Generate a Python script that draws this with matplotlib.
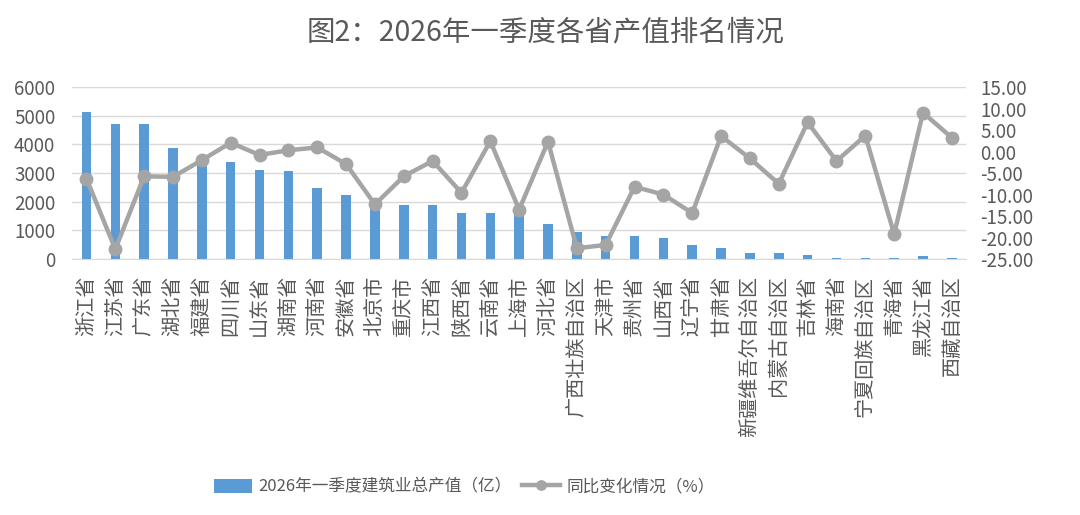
import matplotlib
matplotlib.use("Agg")
import matplotlib.pyplot as plt
import numpy as np

plt.rcParams['font.family'] = ['Noto Sans CJK SC', 'DejaVu Sans']

provinces = ['浙江省', '江苏省', '广东省', '湖北省', '福建省', '四川省', '山东省', '湖南省',
             '河南省', '安徽省', '北京市', '重庆市', '江西省', '陕西省', '云南省', '上海市',
             '河北省', '广西壮族自治区', '天津市', '贵州省', '山西省', '辽宁省', '甘肃省',
             '新疆维吾尔自治区', '内蒙古自治区', '吉林省', '海南省', '宁夏回族自治区',
             '青海省', '黑龙江省', '西藏自治区']
output_value = [5120, 4700, 4700, 3880, 3500, 3380, 3120, 3060, 2490, 2250, 1950, 1870,
                1870, 1610, 1610, 1650, 1230, 950, 820, 820, 740, 500, 370, 200, 200,
                140, 30, 30, 20, 120, 20]
yoy_change = [-6.3, -22.7, -5.75, -5.9, -2.0, 2.05, -0.8, 0.3, 0.95, -2.9, -12.3, -5.75,
              -2.2, -9.6, 2.4, -13.5, 2.3, -22.5, -21.7, -8.2, -10.0, -14.3, 3.6, -1.6,
              -7.5, 6.8, -2.2, 3.7, -19.2, 9.06, 3.2]

bar_color = '#5b9bd5'
line_color = '#a5a5a5'
text_color = '#595959'

fig = plt.figure(figsize=(10.8, 5.15), dpi=100)
ax = fig.add_axes([0.0667, 0.497, 0.828, 0.334])
x = np.arange(len(provinces))

ax.bar(x, output_value, width=0.33, color=bar_color, zorder=2,
       label='2026年一季度建筑业总产值（亿）')
ax.set_ylim(0, 6000)
ax.set_yticks(range(0, 6001, 1000))
ax.set_xlim(-0.5, len(provinces) - 0.5)
ax.set_xticks(x)
ax.set_xticklabels(provinces, rotation=90, fontsize=14.5, color=text_color)
ax.tick_params(axis='x', length=0, pad=12)
ax.tick_params(axis='y', length=0, labelsize=13.5, labelcolor=text_color, pad=12)
ax.grid(axis='y', color='#d9d9d9', linewidth=1, zorder=0)
for s in ax.spines.values():
    s.set_visible(False)
ax.spines['bottom'].set_visible(True)
ax.spines['bottom'].set_color('#d9d9d9')

ax2 = ax.twinx()
ax2.plot(x, yoy_change, color=line_color, linewidth=3.2, marker='o', markersize=9,
         zorder=3, label='同比变化情况（%）')
ax2.set_ylim(-25, 15)
ax2.set_yticks(range(-25, 16, 5))
ax2.set_yticklabels([f'{v:.2f}' for v in range(-25, 16, 5)])
ax2.tick_params(axis='y', length=0, labelsize=13.5, labelcolor=text_color, pad=10)
for s in ax2.spines.values():
    s.set_visible(False)

fig.text(0.505, 0.938, '图2：2026年一季度各省产值排名情况', ha='center', va='center',
         fontsize=20.5, color=text_color)

h1, l1 = ax.get_legend_handles_labels()
h2, l2 = ax2.get_legend_handles_labels()
fig.legend(h1 + h2, l1 + l2, loc='center', bbox_to_anchor=(0.43, 0.054), ncol=2,
           frameon=False, fontsize=12, labelcolor=text_color, handlelength=2.3,
           handleheight=0.9, markerscale=0.75, columnspacing=0.6, handletextpad=0.4)

fig.savefig('out.png', dpi=100)
